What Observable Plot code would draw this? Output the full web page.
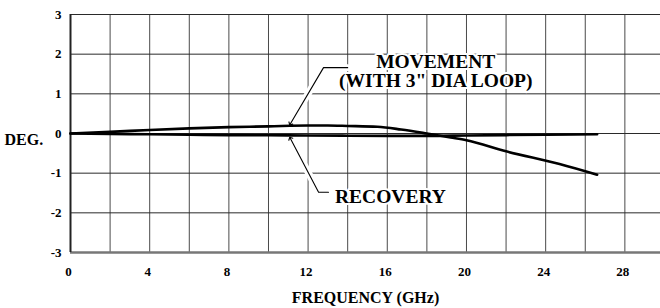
<!DOCTYPE html>
<html>
<head>
<meta charset="utf-8">
<script src="https://cdn.jsdelivr.net/npm/d3@7"></script>
<script src="https://cdn.jsdelivr.net/npm/@observablehq/plot@0.6"></script>
<style>
  html, body { margin: 0; padding: 0; background: white; }
  #chart svg, #chart svg text { font-family: "Liberation Serif", "Times New Roman", serif !important; font-weight: bold; }
</style>
</head>
<body>
<div id="chart"></div>
<script>
// Tick labels / grid
const xTicks = [0, 4, 8, 12, 16, 20, 24, 28];
const xGrid = [0, 2, 4, 6, 8, 10, 12, 14, 16, 18, 20, 22, 24, 26, 28];
const yTicks = [-3, -2, -1, 0, 1, 2, 3];

// Series: MOVEMENT (WITH 3" DIA LOOP)
const movementFreq = [0, 2, 4, 6, 8, 10, 12, 13, 14, 15.5, 16.7, 18, 19.2, 20, 22, 24.7, 26.6];
const movementDeg  = [0, 0.04, 0.09, 0.13, 0.16, 0.18, 0.2, 0.2, 0.19, 0.17, 0.1, 0, -0.1, -0.17, -0.45, -0.77, -1.04];

// Series: RECOVERY
const recoveryFreq = [0, 2, 4, 6, 8, 10, 12, 14, 16, 18, 20, 22, 24, 26.6];
const recoveryDeg  = [0, -0.01, -0.02, -0.03, -0.04, -0.045, -0.05, -0.055, -0.06, -0.06, -0.05, -0.04, -0.03, -0.02];

// Annotations
const labelText = ["MOVEMENT\n(WITH 3\" DIA LOOP)", "RECOVERY"];
const labelFreq = [18.45, 16.16];
const labelDeg  = [1.17, -1.74];
const movementLeaderFreq = [14.0, 12.78, 11.1];
const movementLeaderDeg  = [1.66, 1.66, 0.24];
const recoveryLeaderFreq = [13.03, 12.53, 11.1];
const recoveryLeaderDeg  = [-1.48, -1.48, -0.12];

const movement = movementFreq.map((f, i) => ({f, v: movementDeg[i]}));
const recovery = recoveryFreq.map((f, i) => ({f, v: recoveryDeg[i]}));
const labels = labelText.map((t, i) => ({t, f: labelFreq[i], v: labelDeg[i]}));
const mLeader = movementLeaderFreq.map((f, i) => ({f, v: movementLeaderDeg[i]}));
const rLeader = recoveryLeaderFreq.map((f, i) => ({f, v: recoveryLeaderDeg[i]}));

const serif = "'Liberation Serif', 'Times New Roman', serif";

const chart = Plot.plot({
  width: 660,
  height: 308,
  marginTop: 14,
  marginBottom: 56,
  marginLeft: 70,
  marginRight: 0,
  style: {fontFamily: serif, fontWeight: "bold", fontSize: "13px", background: "white", color: "black"},
  x: {domain: [0, 29.8], label: null},
  y: {domain: [-3, 3], label: null},
  marks: [
    Plot.ruleX(xGrid, {stroke: "#4a4a4a", strokeWidth: 1}),
    Plot.ruleY(yTicks, {stroke: "#2a2a2a", strokeWidth: 1}),
    Plot.ruleY([-3], {stroke: "#777", strokeWidth: 2.5}),
    Plot.ruleX([0], {stroke: "#222", strokeWidth: 2}),
    Plot.axisX({ticks: xTicks, tickSize: 0, tickPadding: 14, dx: -2, tickFormat: d => d, fontSize: 13, fontFamily: serif, fontWeight: "bold"}),
    Plot.axisY({ticks: yTicks, tickSize: 0, tickPadding: 9, tickFormat: d => d, fontSize: 13, fontFamily: serif, fontWeight: "bold"}),
    // leader halos
    Plot.line(mLeader, {x: "f", y: "v", stroke: "white", strokeWidth: 7}),
    Plot.line(rLeader, {x: "f", y: "v", stroke: "white", strokeWidth: 7}),
    // curves
    Plot.line(recovery, {x: "f", y: "v", stroke: "black", strokeWidth: 2.6, curve: "monotone-x"}),
    Plot.line(movement, {x: "f", y: "v", stroke: "black", strokeWidth: 2.6, curve: "monotone-x"}),
    // leader lines
    Plot.line(mLeader, {x: "f", y: "v", stroke: "black", strokeWidth: 1.1, markerEnd: "arrow"}),
    Plot.line(rLeader, {x: "f", y: "v", stroke: "black", strokeWidth: 1.1, markerEnd: "arrow"}),
    // annotation text
    Plot.text(labels, {x: "f", y: "v", text: "t", fontSize: 19.5, lineHeight: 0.98, fontFamily: serif, fontWeight: "bold", textAnchor: "middle", lineAnchor: "bottom", fill: "black", stroke: "white", strokeWidth: 4}),
    Plot.text(["DEG."], {frameAnchor: "left", text: d => d, dx: -66, dy: 6, textAnchor: "start", lineAnchor: "middle", fontSize: 16, fontFamily: serif, fontWeight: "bold"}),
    Plot.text(["FREQUENCY (GHz)"], {frameAnchor: "bottom", text: d => d, dy: 50, textAnchor: "middle", lineAnchor: "bottom", fontSize: 16, fontFamily: serif, fontWeight: "bold"})
  ]
});
document.getElementById("chart").appendChild(chart);
</script>
</body>
</html>
